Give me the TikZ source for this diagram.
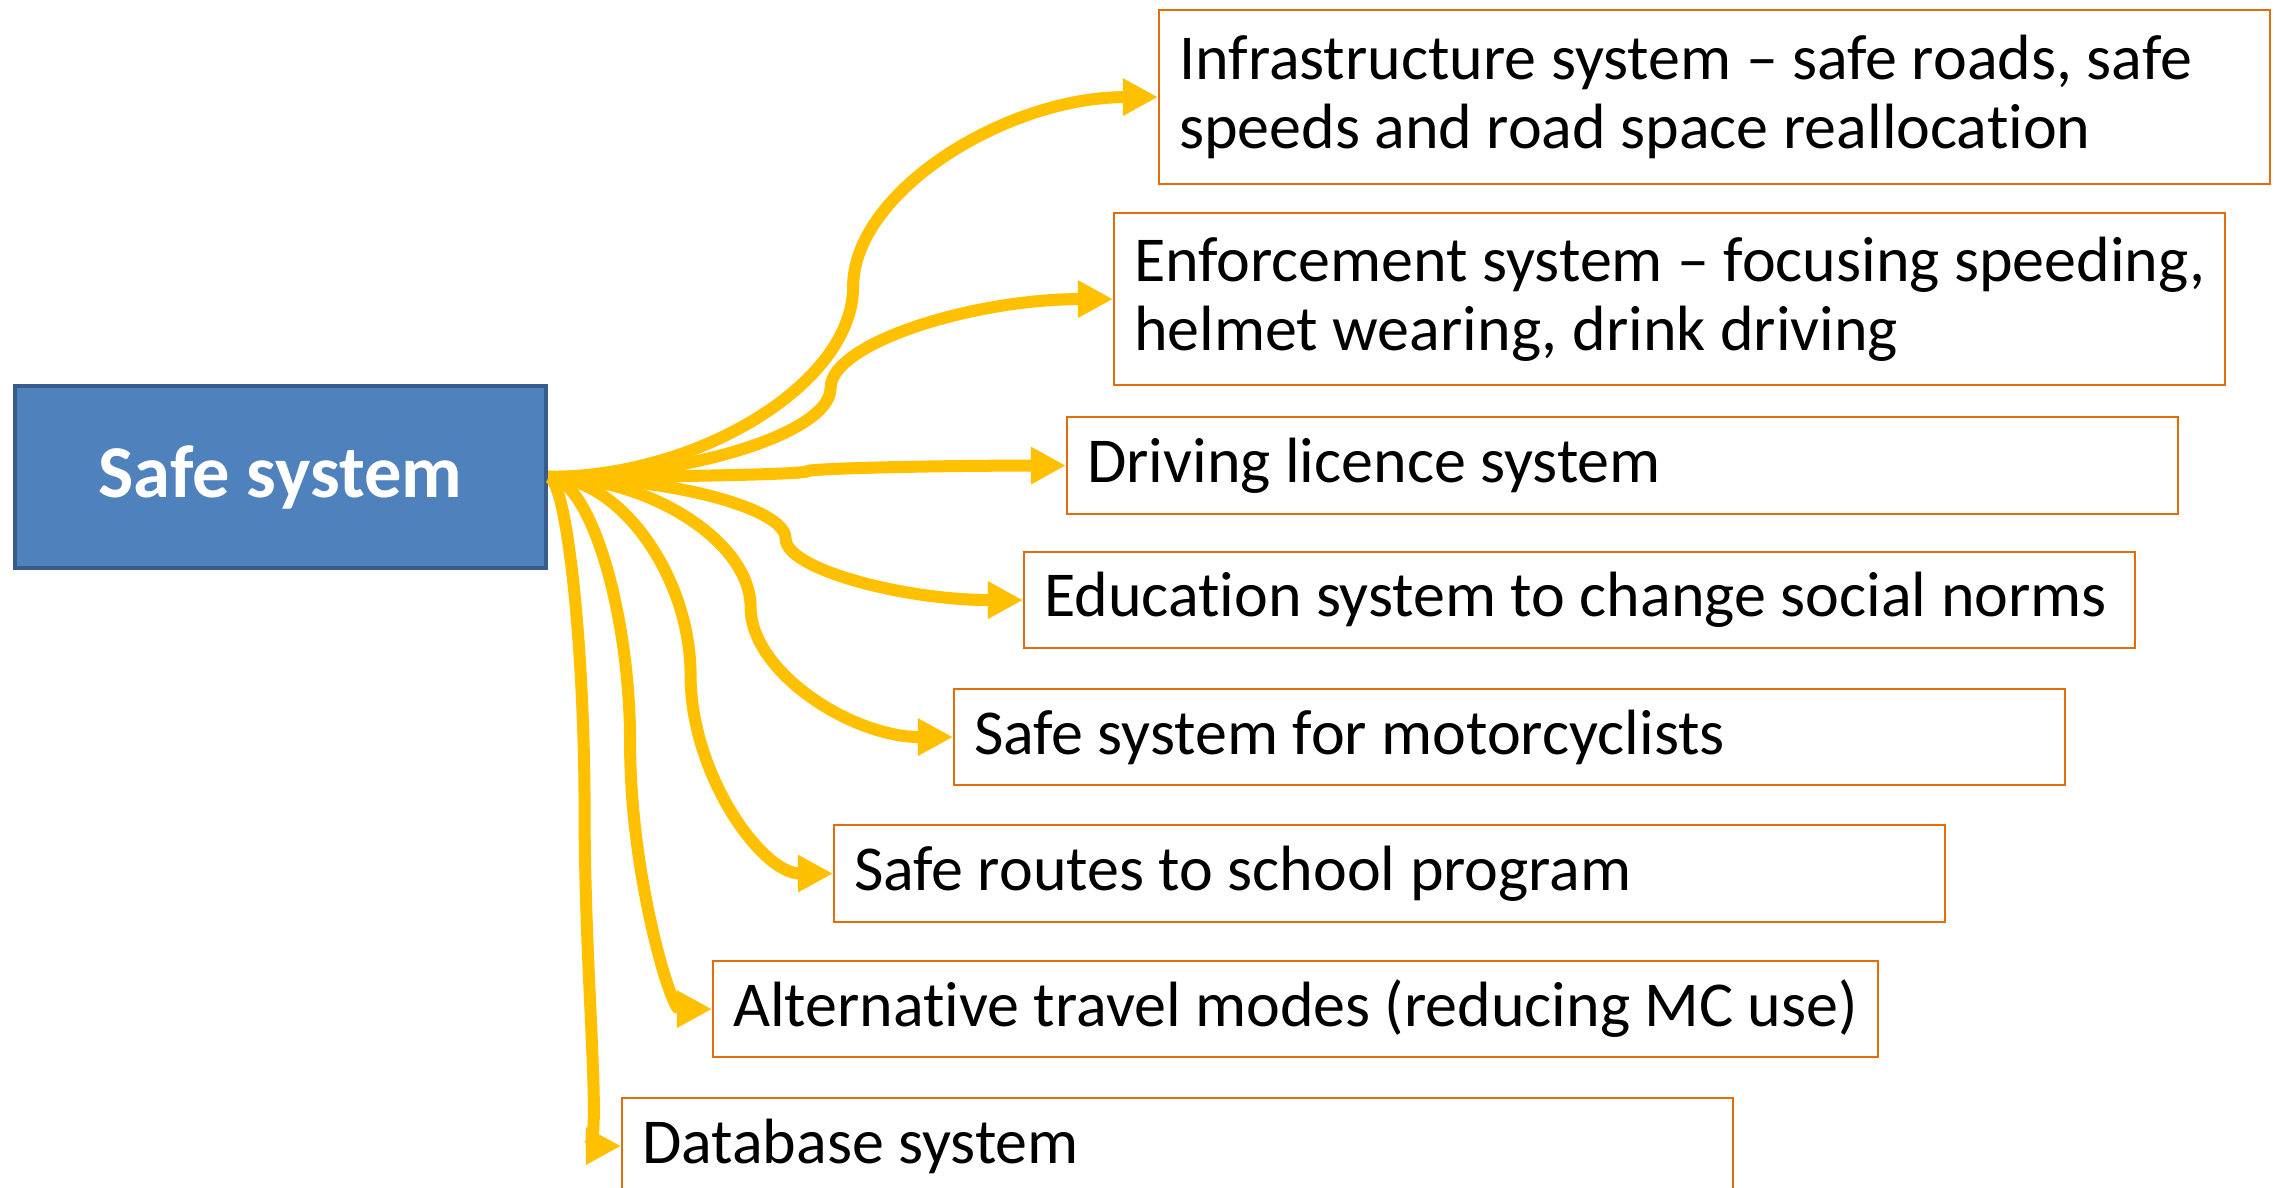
\documentclass[tikz,border=0pt]{standalone}
\usepackage{fontspec}
\setmainfont{Carlito}[Ligatures={TeX,NoCommon}]
\usetikzlibrary{arrows.meta,calc}

\definecolor{sysblue}{HTML}{4F81BD}
\definecolor{sysedge}{HTML}{385D8A}
\definecolor{boxorange}{HTML}{E46C0A}
\definecolor{linkyellow}{HTML}{FFC000}

% curved elbow: leave horizontally, vertical at half way, arrive horizontally
\tikzset{elbow/.style={to path={
  let \p1=(\tikztostart), \p2=(\tikztotarget),
      \p3=($(\p1)!.5!(\p2)$), \p4=($(\p1)!.25!(\p2)$), \p5=($(\p1)!.75!(\p2)$) in
  .. controls (\x4,\y1) and (\x3,\y4) .. (\p3)
  .. controls (\x3,\y5) and (\x5,\y2) .. (\p2)}}}

\begin{document}
\begin{tikzpicture}[x=0.01cm,y=-0.01cm,>={Triangle[length=0.35cm,width=0.35cm]},
                    link/.style={->,draw=linkyellow,line width=0.12cm,elbow}]
  \tikzstyle{topic}=[draw=boxorange, line width=0.6pt, anchor=north west,
                     minimum width=11.1cm, text width=10.7cm, inner xsep=0.2cm,
                     align=left, font=\fontsize{18.2}{19.6}\selectfont,
                     execute at begin node={\spaceskip=0pt\xspaceskip=0pt}]

  \useasboundingbox (0,0) rectangle (2275,1188);

  \node[draw=sysedge, line width=1.1pt, fill=sysblue, text=white, anchor=north west,
        minimum width=5.31cm, minimum height=1.82cm,
        font=\fontsize{21.2}{25}\selectfont\bfseries] (sys) at (13,384) {Safe system};

  \node[topic, minimum height=1.74cm] (infra)   at (1158,9)
    {\mbox{Infrastructure system -- safe roads, safe}\\speeds and road space reallocation};
  \node[topic, minimum height=1.72cm] (enforce) at (1113,212)
    {\mbox{Enforcement system -- focusing speeding,}\\helmet wearing, drink driving};
  \node[topic, minimum height=0.97cm] (licence) at (1066,416) {Driving licence system};
  \node[topic, minimum height=0.96cm] (edu)     at (1023,551) {Education system to change social norms};
  \node[topic, minimum height=0.96cm] (moto)    at (953,688)  {Safe system for motorcyclists};
  \node[topic, minimum height=0.97cm] (school)  at (833,824)  {Safe routes to school program};
  \node[topic, minimum height=0.96cm, minimum width=11.64cm, text width=11.24cm]
                                      (modes)   at (712,960)  {Alternative travel modes (reducing MC use)};
  \node[topic, minimum height=0.96cm] (data)    at (621,1097) {Database system};

  \path (sys.east) edge[link] (infra.west)
                   edge[link] (enforce.west)
                   edge[link] (licence.west)
                   edge[link] (edu.west)
                   edge[link] (moto.west)
                   edge[link] (school.west)
                   edge[link] (modes.west)
                   edge[link] (data.west);
\end{tikzpicture}
\end{document}
